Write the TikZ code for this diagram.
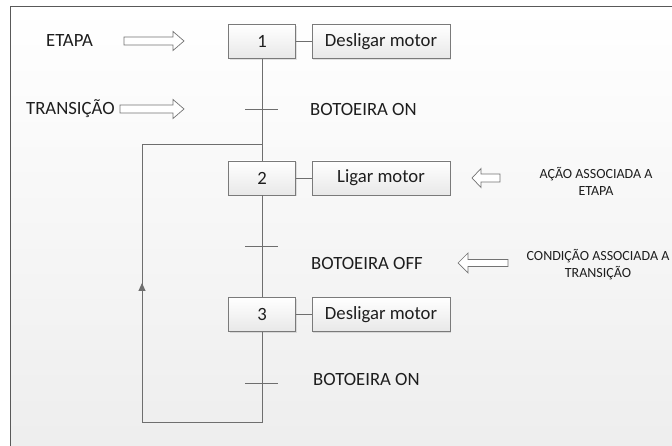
\documentclass[tikz,border=0pt]{standalone}
\usepackage{fontspec}
\setmainfont{Carlito}
\usetikzlibrary{shadows,arrows.meta}
\definecolor{linegray}{HTML}{6E6E6E}
\definecolor{boxedge}{HTML}{7A7A7A}
\definecolor{txt}{HTML}{1E1E1E}
\begin{document}
\begin{tikzpicture}[x=1pt,y=-1pt,
  conn/.style={draw=linegray, line width=0.9pt},
  boxbase/.style={draw=boxedge, line width=0.8pt, top color=white, bottom color=black!9,
    drop shadow={shadow xshift=1.4pt, shadow yshift=-1.4pt, opacity=0.22},
    minimum height=34pt, inner sep=0pt, text=txt, font=\fontsize{18.7}{22}\selectfont},
  stepbox/.style={boxbase, minimum width=67pt},
  actbox/.style={boxbase, minimum width=138pt},
  lbl/.style={text=txt, inner sep=0pt, font=\fontsize{18.7}{22}\selectfont},
  note/.style={text=txt, inner sep=0pt, align=center, font=\fontsize{14}{17}\selectfont},
  hollow/.style={draw=black!55, line width=0.7pt, fill=white, line join=miter}]
\useasboundingbox (0,0) rectangle (672,446);
\clip (0,0) rectangle (672,446);

% page background and frame
\fill[white] (0,0) rectangle (672,446);
\shade[top color=white, bottom color=black!7] (10,7) rectangle (690,460);
\draw[black!65, line width=1pt] (10,460) -- (10,7) -- (690,7);

% steps and their actions
\node[stepbox] (s1) at (262,41.5) {1};
\node[actbox]  (a1) at (381,41.5) {Desligar motor};
\node[stepbox] (s2) at (262,178) {2};
\node[actbox]  (a2) at (381,178) {Ligar motor};
\node[stepbox] (s3) at (262,314.5) {3};
\node[actbox]  (a3) at (381,314.5) {Desligar motor};

% transitions and loop points
\coordinate (t1) at (262,109);
\coordinate (t2) at (262,246);
\coordinate (t3) at (262,383);
\coordinate (j)  at (262,144);
\coordinate (br) at (262,422);
\coordinate (bl) at (142,422);
\coordinate (tl) at (142,144);
\coordinate (am) at (142,283);

% main flow
\draw[conn] (s1.south) -- (s2.north);
\draw[conn] (s2.south) -- (s3.north);
\draw[conn] (s3.south) -- (br) -- (bl) -- (tl) -- (j);
\draw[conn, -{Triangle[length=8pt,width=7pt]}] (bl) -- (am);
\draw[conn] (s1.east) -- (a1.west);
\draw[conn] (s2.east) -- (a2.west);
\draw[conn] (s3.east) -- (a3.west);

% transition bars
\draw[conn] ([xshift=-17pt]t1) -- ([xshift=16pt]t1);
\draw[conn] ([xshift=-17pt]t2) -- ([xshift=16pt]t2);
\draw[conn] ([xshift=-17pt]t3) -- ([xshift=16pt]t3);

% transition conditions
\node[lbl, anchor=west] (c1) at (310,109) {BOTOEIRA ON};
\node[lbl, anchor=west] (c2) at (311,263) {BOTOEIRA OFF};
\node[lbl, anchor=west] (c3) at (313,379) {BOTOEIRA ON};

% legend on the left
\node[lbl, anchor=west] (le) at (46,41) {ETAPA};
\node[lbl, anchor=west] (lt) at (26,109) {TRANSIÇÃO};
\draw[hollow] (124,37) -- (173,37) -- (173,31.5) -- (184,41) -- (173,50.5) -- (173,45) -- (124,45) -- cycle;
\draw[hollow] (120,105) -- (173,105) -- (173,99.5) -- (184,109) -- (173,118.5) -- (173,113) -- (120,113) -- cycle;

% legend on the right
\node[note] (na) at (596,181) {AÇÃO ASSOCIADA A\\ETAPA};
\node[note] (nc) at (598,265) {CONDIÇÃO ASSOCIADA A\\TRANSIÇÃO};
\draw[hollow] (472,178) -- (481,168.5) -- (481,174) -- (500,174) -- (500,182) -- (481,182) -- (481,187.5) -- cycle;
\draw[hollow] (458,263) -- (468,253) -- (468,259.5) -- (508,259.5) -- (508,266.5) -- (468,266.5) -- (468,273) -- cycle;
\end{tikzpicture}
\end{document}
